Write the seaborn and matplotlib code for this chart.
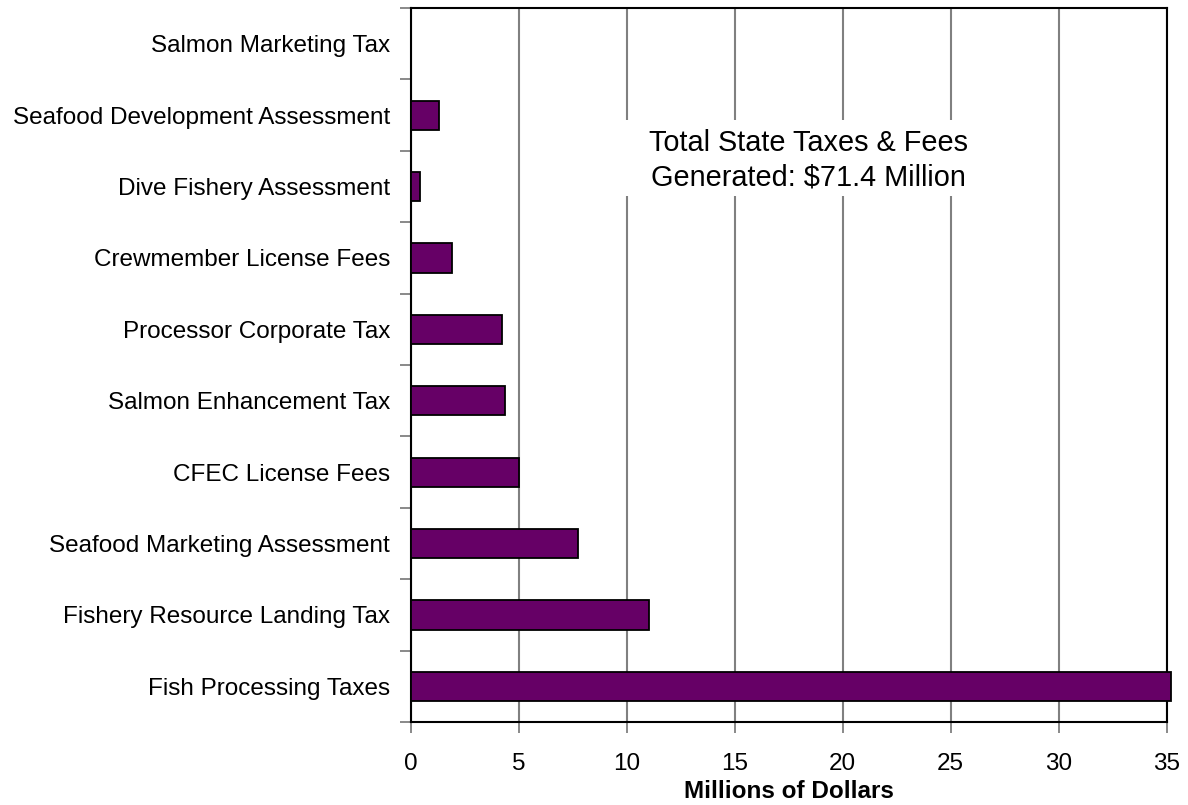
import matplotlib
matplotlib.use("Agg")
import matplotlib.pyplot as plt
from matplotlib.patches import Rectangle
import seaborn as sns
import pandas as pd
import numpy as np

# Alaska seafood industry: state taxes and fees generated (millions of dollars)
categories = [
    "Salmon Marketing Tax",
    "Seafood Development Assessment",
    "Dive Fishery Assessment",
    "Crewmember License Fees",
    "Processor Corporate Tax",
    "Salmon Enhancement Tax",
    "CFEC License Fees",
    "Seafood Marketing Assessment",
    "Fishery Resource Landing Tax",
    "Fish Processing Taxes",
]
values = [0.0, 1.28, 0.43, 1.91, 4.23, 4.37, 5.0, 7.75, 11.03, 35.2]
x_ticks = [0, 5, 10, 15, 20, 25, 30, 35]
total_note = "Total State Taxes & Fees\nGenerated: $71.4 Million"
x_label = "Millions of Dollars"

df = pd.DataFrame({"category": categories, "value": values})

sns.set_theme(style="white")
plt.rcParams["font.family"] = ["Liberation Sans", "DejaVu Sans"]
plt.rcParams["text.color"] = "black"
plt.rcParams["axes.labelcolor"] = "black"

fig = plt.figure(figsize=(11.88, 8.05), dpi=100)
ax = fig.add_axes([0.346, 0.103, 0.636, 0.887])

sns.barplot(data=df, x="value", y="category", order=categories, orient="h",
            color="#660066", saturation=1, width=0.41,
            edgecolor="black", linewidth=1.3, ax=ax, zorder=3)
for p in ax.patches:
    p.set_clip_on(False)

ax.set_xlim(0, 35)
ax.set_ylim(len(categories) - 0.5, -0.5)

# vertical gridlines
ax.set_xticks(x_ticks)
ax.set_xticklabels([str(t) for t in x_ticks], fontsize=17.5)
ax.xaxis.grid(True, color="#808080", linewidth=1.5, zorder=0)
ax.set_axisbelow(True)
ax.tick_params(axis="x", direction="out", length=8, width=1.3,
               color="#808080", labelcolor="black", pad=14, bottom=True)

# category labels centred on bars, tick marks at slot boundaries
ax.set_yticks(np.arange(-0.5, len(categories), 1.0))
ax.set_yticklabels([])
ax.set_yticks(np.arange(len(categories)), minor=True)
ax.set_yticklabels(categories, minor=True, fontsize=17.5)
ax.tick_params(axis="y", which="major", direction="out", length=8,
               width=1.3, color="#808080", left=True)
ax.tick_params(axis="y", which="minor", length=0, pad=15, labelcolor="black")
ax.set_ylabel("")

ax.set_xlabel(x_label, fontsize=17.5, fontweight="bold", labelpad=4)

for s in ax.spines.values():
    s.set_visible(True)
    s.set_color("black")
    s.set_linewidth(1.5)

# white panel behind the total annotation, hiding the gridlines there
ax.add_patch(Rectangle((9.6, 1.07), 17.6, 1.06, facecolor="white",
                       edgecolor="none", zorder=2))
ax.text(18.4, 1.63, total_note, ha="center", va="center", fontsize=20.8,
        linespacing=1.3, zorder=4)

fig.savefig("out.png", dpi=100)
